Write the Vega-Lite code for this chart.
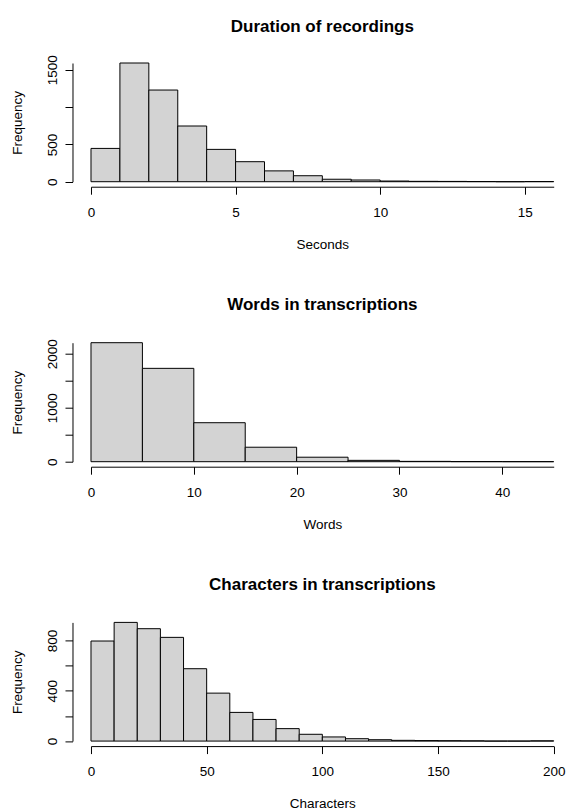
{
  "$schema": "https://vega.github.io/schema/vega-lite/v6.json",
  "background": "white",
  "padding": {"top": 17, "left": 10, "right": 5, "bottom": 5},
  "bounds": "flush",
  "spacing": 160.7,
  "datasets": {
    "duration": [
      {"start": 0, "end": 1, "count": 446},
      {"start": 1, "end": 2, "count": 1590},
      {"start": 2, "end": 3, "count": 1228},
      {"start": 3, "end": 4, "count": 746},
      {"start": 4, "end": 5, "count": 433},
      {"start": 5, "end": 6, "count": 268},
      {"start": 6, "end": 7, "count": 145},
      {"start": 7, "end": 8, "count": 80},
      {"start": 8, "end": 9, "count": 33},
      {"start": 9, "end": 10, "count": 23},
      {"start": 10, "end": 11, "count": 9},
      {"start": 11, "end": 12, "count": 5},
      {"start": 12, "end": 13, "count": 4},
      {"start": 13, "end": 14, "count": 2},
      {"start": 14, "end": 15, "count": 0},
      {"start": 15, "end": 16, "count": 2}
    ],
    "words": [
      {"start": 0, "end": 5, "count": 2204},
      {"start": 5, "end": 10, "count": 1729},
      {"start": 10, "end": 15, "count": 722},
      {"start": 15, "end": 20, "count": 268},
      {"start": 20, "end": 25, "count": 83},
      {"start": 25, "end": 30, "count": 25},
      {"start": 30, "end": 35, "count": 6},
      {"start": 35, "end": 40, "count": 2},
      {"start": 40, "end": 45, "count": 1}
    ],
    "chars": [
      {"start": 0, "end": 10, "count": 795},
      {"start": 10, "end": 20, "count": 943},
      {"start": 20, "end": 30, "count": 893},
      {"start": 30, "end": 40, "count": 824},
      {"start": 40, "end": 50, "count": 575},
      {"start": 50, "end": 60, "count": 381},
      {"start": 60, "end": 70, "count": 228},
      {"start": 70, "end": 80, "count": 172},
      {"start": 80, "end": 90, "count": 99},
      {"start": 90, "end": 100, "count": 54},
      {"start": 100, "end": 110, "count": 33},
      {"start": 110, "end": 120, "count": 19},
      {"start": 120, "end": 130, "count": 11},
      {"start": 130, "end": 140, "count": 6},
      {"start": 140, "end": 150, "count": 4},
      {"start": 150, "end": 160, "count": 3},
      {"start": 160, "end": 170, "count": 2},
      {"start": 170, "end": 180, "count": 0},
      {"start": 180, "end": 190, "count": 0},
      {"start": 190, "end": 200, "count": 2}
    ]
  },
  "vconcat": [
    {
      "title": {"text": "Duration of recordings", "offset": 19.2},
      "width": 462.7,
      "height": 118.7,
      "data": {"name": "duration"},
      "mark": {"type": "rect", "fill": "#D3D3D3", "stroke": "black", "strokeWidth": 1},
      "encoding": {
        "x": {"field": "start", "type": "quantitative", "scale": {"domain": [0, 16], "nice": false, "zero": false}, "axis": {"values": [0, 5, 10, 15], "format": "d", "title": "Seconds"}},
        "x2": {"field": "end"},
        "y": {"field": "count", "type": "quantitative", "scale": {"domain": [0, 1590], "nice": false}, "axis": {"values": [0, 500, 1000, 1500], "format": "d", "labelExpr": "datum.value == 1000 ? '' : datum.label", "title": "Frequency"}},
        "y2": {"datum": 0}
      }
    },
    {
      "title": {"text": "Words in transcriptions", "offset": 25.2},
      "width": 462.7,
      "height": 119,
      "data": {"name": "words"},
      "mark": {"type": "rect", "fill": "#D3D3D3", "stroke": "black", "strokeWidth": 1},
      "encoding": {
        "x": {"field": "start", "type": "quantitative", "scale": {"domain": [0, 45], "nice": false, "zero": false}, "axis": {"values": [0, 10, 20, 30, 40], "format": "d", "title": "Words"}},
        "x2": {"field": "end"},
        "y": {"field": "count", "type": "quantitative", "scale": {"domain": [0, 2204], "nice": false}, "axis": {"values": [0, 500, 1000, 1500, 2000], "format": "d", "labelExpr": "datum.value == 500 || datum.value == 1500 ? '' : datum.label", "title": "Frequency"}},
        "y2": {"datum": 0}
      }
    },
    {
      "title": {"text": "Characters in transcriptions", "offset": 28.2},
      "width": 462.7,
      "height": 118.7,
      "data": {"name": "chars"},
      "mark": {"type": "rect", "fill": "#D3D3D3", "stroke": "black", "strokeWidth": 1},
      "encoding": {
        "x": {"field": "start", "type": "quantitative", "scale": {"domain": [0, 200], "nice": false, "zero": false}, "axis": {"values": [0, 50, 100, 150, 200], "format": "d", "title": "Characters"}},
        "x2": {"field": "end"},
        "y": {"field": "count", "type": "quantitative", "scale": {"domain": [0, 943], "nice": false}, "axis": {"values": [0, 200, 400, 600, 800], "format": "d", "labelExpr": "datum.value == 200 || datum.value == 600 ? '' : datum.label", "title": "Frequency"}},
        "y2": {"datum": 0}
      }
    }
  ],
  "config": {
    "font": "Liberation Sans",
    "view": {"stroke": null},
    "axis": {
      "grid": false,
      "domainColor": "black",
      "tickColor": "black",
      "labelColor": "black",
      "titleColor": "black",
      "labelFontSize": 13.5,
      "titleFontSize": 13.5,
      "titleFontWeight": "normal",
      "tickSize": 7.5,
      "domainWidth": 1,
      "tickWidth": 1,
      "labelFont": "Liberation Sans",
      "titleFont": "Liberation Sans",
      "labelOverlap": false,
      "labelFlush": false
    },
    "axisX": {"offset": 5, "labelPadding": 11, "titlePadding": 18.5},
    "axisY": {"offset": 18.5, "labelAngle": 270, "labelAlign": "center", "labelBaseline": "alphabetic", "labelPadding": 8.5, "titlePadding": 20.5},
    "title": {"fontSize": 17, "fontWeight": "bold", "font": "Liberation Sans", "color": "black", "baseline": "alphabetic", "anchor": "middle", "frame": "group"}
  }
}
